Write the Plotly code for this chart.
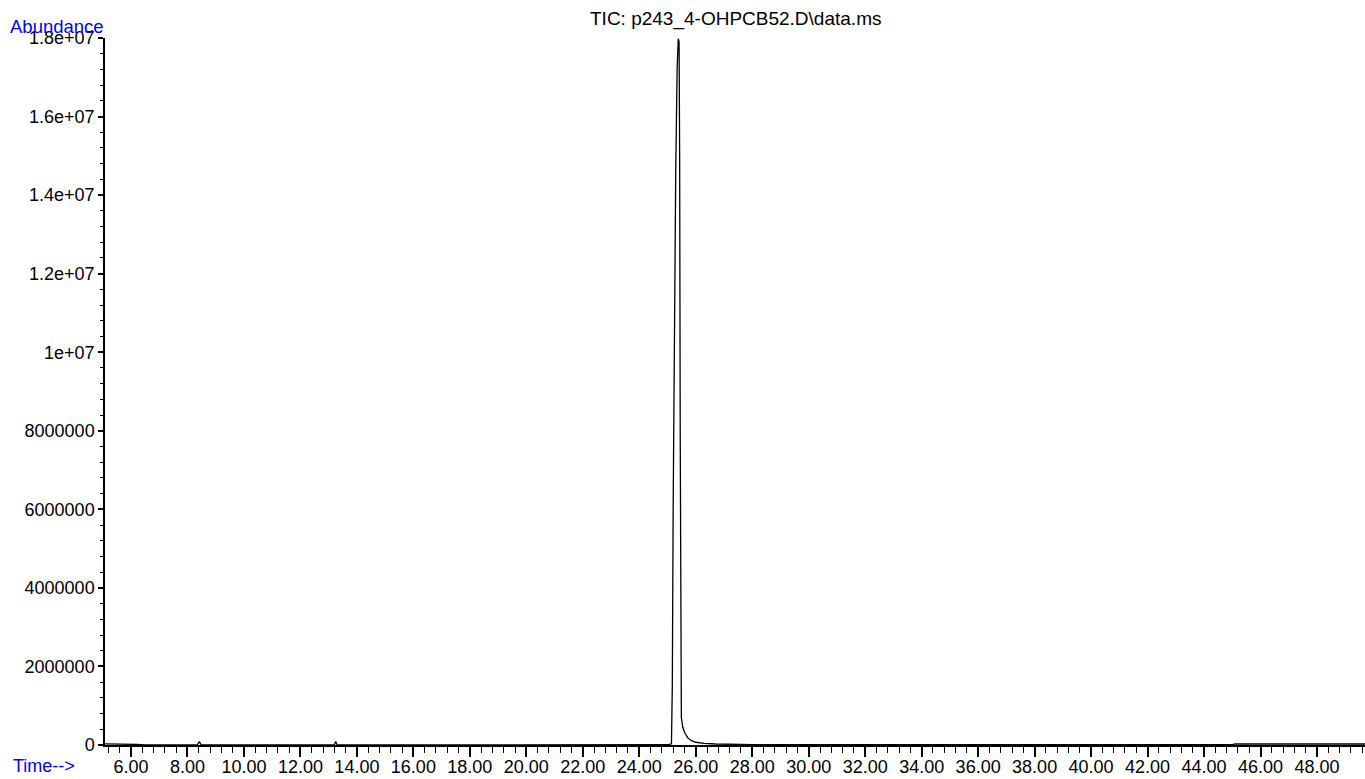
import numpy as np
import plotly.graph_objects as go

# ---- data (time in min, abundance) ----
time = [5.08, 5.5, 6.0, 6.2, 6.5, 7.0, 7.5, 8.0, 8.35, 8.42, 8.48, 9.0, 10.0, 11.0, 12.0, 13.0,
        13.2, 13.25, 13.3, 14.0, 16.0, 18.0, 20.0, 22.0, 24.0, 25.0, 25.14, 25.17, 25.20,
        25.24, 25.29, 25.34, 25.38, 25.41, 25.43, 25.45, 25.46, 25.47, 25.49, 25.54,
        25.62, 25.72, 25.85, 26.0, 26.3, 26.7, 27.3, 28.0, 29.0, 30.0, 32.0, 34.0, 36.0,
        38.0, 40.0, 42.0, 44.0, 45.0, 45.1, 46.0, 47.0, 48.0, 49.0, 49.7]
abundance = [30000, 30000, 28000, 15000, 5000, 4000, 4000, 4000, 5000, 90000, 5000, 4000, 4000,
             4000, 4000, 4000, 5000, 90000, 5000, 4000, 4000, 4000, 4000, 4000, 5000, 6000,
             30000, 1500000, 6000000, 10000000, 14500000, 17200000, 17980000, 17900000,
             15000000, 8000000, 3000000, 1200000, 700000, 450000, 300000, 180000, 110000,
             70000, 40000, 25000, 15000, 10000, 7000, 6000, 5000, 5000, 5000, 5000, 5000,
             5000, 6000, 8000, 25000, 25000, 25000, 25000, 25000, 25000]

x_tickvals = [6, 8, 10, 12, 14, 16, 18, 20, 22, 24, 26, 28, 30, 32, 34, 36, 38, 40, 42, 44, 46, 48]
x_ticktext = ["6.00", "8.00", "10.00", "12.00", "14.00", "16.00", "18.00", "20.00", "22.00",
              "24.00", "26.00", "28.00", "30.00", "32.00", "34.00", "36.00", "38.00", "40.00",
              "42.00", "44.00", "46.00", "48.00"]
y_tickvals = [0, 2e6, 4e6, 6e6, 8e6, 1e7, 1.2e7, 1.4e7, 1.6e7, 1.8e7]
y_ticktext = ["0", "2000000", "4000000", "6000000", "8000000", "1e+07", "1.2e+07",
              "1.4e+07", "1.6e+07", "1.8e+07"]

title_text = "TIC: p243_4-OHPCB52.D\\data.ms"
x_label = "Time-->"
y_label = "Abundance"

X_RANGE = [5.08, 49.70]
Y_RANGE = [0, 1.8e7]

# minor tick positions
x_minor = [round(v, 2) for v in np.arange(5.2, 49.7, 0.4) if abs(round(v, 2) / 2 - round(round(v, 2) / 2)) > 1e-6]
y_minor = [v for v in np.arange(0, 1.8e7 + 1, 4e5) if round(v) % 2000000 != 0]

W, H = 1365, 779
ML, MR, MT, MB = 105, 0, 38, 34
PW, PH = W - ML - MR, H - MT - MB

def px_x(p):
    return (p - ML) / PW

def px_y(p):
    return 1 - (p - MT) / PH

FONT = "Liberation Sans, Arial, sans-serif"

fig = go.Figure()
fig.add_trace(go.Scatter(x=time, y=abundance, mode="lines",
                         line=dict(color="black", width=1.3), hoverinfo="skip",
                         showlegend=False))

fig.update_layout(
    width=W, height=H,
    margin=dict(l=ML, r=MR, t=MT, b=MB, pad=0, autoexpand=False),
    paper_bgcolor="white", plot_bgcolor="white",
    font=dict(family=FONT, size=18, color="black"),
    showlegend=False,
)
fig.update_xaxes(
    range=X_RANGE, showgrid=False, zeroline=False, automargin=False,
    showline=True, linecolor="black", linewidth=1.5,
    tickmode="array", tickvals=x_tickvals, ticktext=x_ticktext,
    ticks="outside", ticklen=10, tickwidth=1.5, tickcolor="black",
    tickfont=dict(family=FONT, size=18, color="black"),
    ticklabelstandoff=-5,
    minor=dict(tickmode="array", tickvals=x_minor, ticks="outside", ticklen=6,
               tickwidth=1.2, tickcolor="black", showgrid=False),
)
fig.update_yaxes(
    range=Y_RANGE, showgrid=False, zeroline=False, automargin=False,
    showline=True, linecolor="black", linewidth=1.5,
    tickmode="array", tickvals=y_tickvals, ticktext=y_ticktext,
    ticks="outside", ticklen=5, tickwidth=1.5, tickcolor="black",
    tickfont=dict(family=FONT, size=18, color="black"),
    ticklabelstandoff=0,
    minor=dict(tickmode="array", tickvals=y_minor, ticks="outside", ticklen=3,
               tickwidth=1.2, tickcolor="black", showgrid=False),
)

fig.add_annotation(text=title_text, xref="paper", yref="paper",
                   x=0.5, y=px_y(19), xanchor="center", yanchor="middle",
                   showarrow=False, font=dict(family=FONT, size=19, color="black"))
fig.add_annotation(text=y_label, xref="paper", yref="paper",
                   x=px_x(8), y=px_y(26), xanchor="left", yanchor="middle",
                   showarrow=False, font=dict(family=FONT, size=18.5, color="#0000FF"))
fig.add_annotation(text=x_label, xref="paper", yref="paper",
                   x=px_x(11), y=px_y(766), xanchor="left", yanchor="middle",
                   showarrow=False, font=dict(family=FONT, size=18, color="#0000FF"))

fig.write_html("out.html")
